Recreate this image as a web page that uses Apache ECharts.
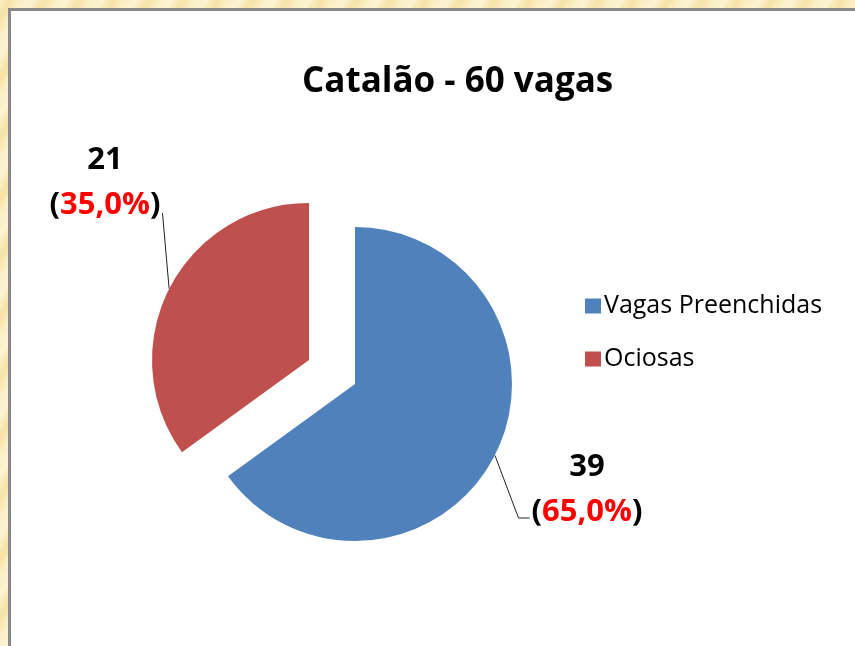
<!DOCTYPE html>
<html lang="pt-BR">
<head>
  <meta charset="UTF-8">
  <title>Catalão - 60 vagas</title>
  <script src="https://cdn.jsdelivr.net/npm/echarts@6.0.0/dist/echarts.min.js"></script>
  <style>
    html, body {
      margin: 0;
      padding: 0;
      width: 855px;
      height: 646px;
      overflow: hidden;
      background: repeating-linear-gradient(120deg, #fbefc6 0px, #f6e2a6 9px, #fbefc6 18px, #fdf3d2 30px);
      position: relative;
    }
    #frame {
      position: absolute;
      left: 8px;
      top: 8px;
      width: 900px;
      height: 700px;
      border: 3px solid #8a8a8a;
      background: #ffffff;
    }
    #chart {
      position: absolute;
      left: 0;
      top: 0;
      width: 855px;
      height: 646px;
    }
  </style>
</head>
<body>
  <div id="frame"></div>
  <div id="chart"></div>
  <script>
    // dados
    const categorias = ['Vagas Preenchidas', 'Ociosas'];
    const valores = [39, 21];
    const cores = ['#4f81bd', '#c0504d'];
    const titulo = 'Catalão - 60 vagas';

    // fatia destacada (Ociosas) desenhada numa série deslocada
    const destaque = 1;
    const centro = [355, 384];
    const centroDestaque = [309, 360];
    // posição dos rótulos (centro do bloco)
    const posRotulos = [[587, 490], [105, 183]];

    const chart = echarts.init(document.getElementById('chart'));

    const fmtPct = (p) => p.toFixed(1).replace('.', ',') + '%';
    const fonte = 'Open Sans';

    const rotulo = {
      show: true,
      position: 'outside',
      formatter: (p) => '{v|' + p.value + '}\n{b|(}{p|' + fmtPct(p.percent) + '}{b|)}',
      rich: {
        v: { fontFamily: fonte, fontWeight: 'bold', fontSize: 31, lineHeight: 45, color: '#000', align: 'center' },
        b: { fontFamily: fonte, fontWeight: 'bold', fontSize: 31, lineHeight: 45, color: '#000' },
        p: { fontFamily: fonte, fontWeight: 'bold', fontSize: 31, lineHeight: 45, color: '#ff0000' }
      }
    };

    const layoutRotulo = function (params) {
      const pos = posRotulos[params.dataIndex];
      const w = params.labelRect.width;
      const h = params.labelRect.height;
      const anchor = params.labelLinePoints ? params.labelLinePoints[0] : [pos[0], pos[1]];
      let pts;
      if (params.dataIndex === 0) {
        const left = pos[0] - w / 2;
        const yEnd = pos[1] + h / 2 - 10;
        pts = [anchor, [left - 13, yEnd], [left - 2, yEnd]];
      } else {
        const right = pos[0] + w / 2;
        const yEnd = pos[1] + h / 2 - 8;
        pts = [anchor, [right + 2, yEnd], [right + 2, yEnd]];
      }
      return { x: pos[0], y: pos[1], align: 'center', verticalAlign: 'middle', labelLinePoints: pts };
    };

    const fatias = (mostrar) => categorias.map((c, i) => {
      const visivel = mostrar(i);
      return {
        name: c,
        value: valores[i],
        itemStyle: { color: visivel ? cores[i] : 'rgba(0,0,0,0)' },
        label: { show: visivel },
        labelLine: { show: visivel }
      };
    });

    const serieBase = {
      type: 'pie',
      radius: 157,
      startAngle: 90,
      clockwise: true,
      silent: true,
      emphasis: { disabled: true },
      label: rotulo,
      labelLine: { length: 10, length2: 10, lineStyle: { color: '#222', width: 1 } },
      labelLayout: layoutRotulo
    };

    const option = {
      backgroundColor: 'transparent',
      animation: false,
      title: {
        text: titulo,
        left: 302,
        top: 61,
        padding: 0,
        textStyle: { fontFamily: fonte, fontWeight: 'bold', fontSize: 35, lineHeight: 42, color: '#000' }
      },
      legend: {
        orient: 'vertical',
        left: 580,
        top: 287,
        itemWidth: 16,
        itemHeight: 15,
        itemGap: 25,
        icon: 'rect',
        selectedMode: false,
        data: categorias.map((c, i) => ({ name: c, itemStyle: { color: cores[i] } })),
        textStyle: { fontFamily: fonte, fontSize: 25, lineHeight: 28, color: '#000', padding: [0, 0, 0, -2] }
      },
      series: [
        Object.assign({}, serieBase, { center: centro, data: fatias((i) => i !== destaque) }),
        Object.assign({}, serieBase, { center: centroDestaque, data: fatias((i) => i === destaque) })
      ]
    };

    chart.setOption(option);
  </script>
</body>
</html>
